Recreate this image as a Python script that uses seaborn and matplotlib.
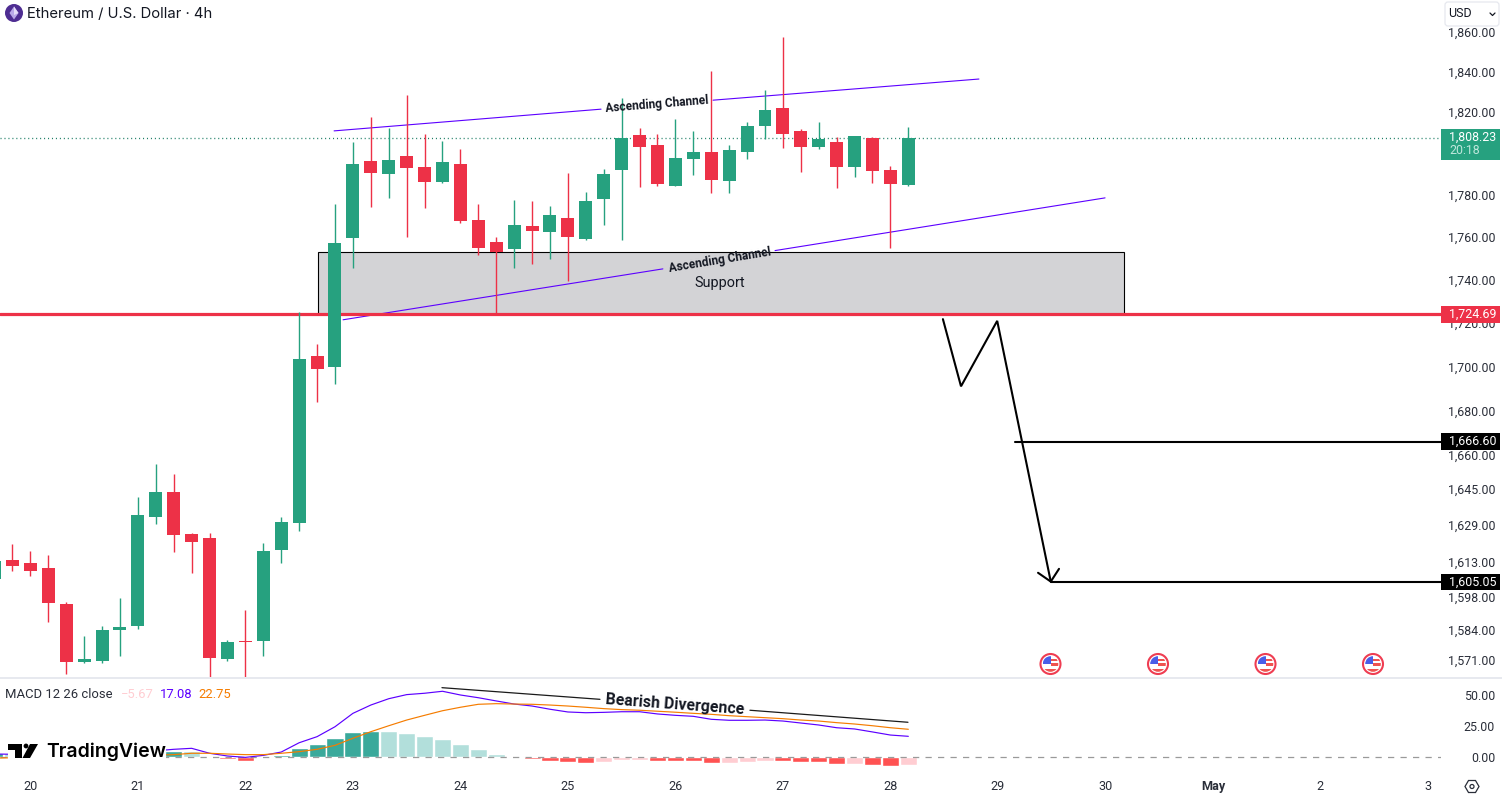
import numpy as np
import pandas as pd
import seaborn as sns
from matplotlib import pyplot as plt
from matplotlib.patches import Rectangle, Circle, FancyBboxPatch, Polygon
from matplotlib.transforms import ScaledTranslation

# ---- candles (4h bars)
opens = [1606.4, 1614.6, 1613.3, 1611.1, 1595.6, 1571.0, 1571.4, 1584.5, 1586.2, 1633.4,
         1644.3, 1625.9, 1624.2, 1572.2, 1579.8, 1579.8, 1618.9, 1630.7, 1705.5, 1700.4,
         1760.4, 1797.2, 1790.9, 1799.6, 1794.3, 1787.1, 1795.7, 1768.9, 1758.5, 1755.2,
         1766.1, 1763.3, 1769.9, 1759.9, 1778.9, 1792.8, 1809.7, 1804.9, 1785.1, 1798.1,
         1801.5, 1787.5, 1801.5, 1814.1, 1822.9, 1811.7, 1803.9, 1806.3, 1794.3, 1808.2,
         1792.8, 1785.6]
highs = [1615.0, 1621.5, 1618.5, 1616.7, 1596.4, 1582.0, 1586.2, 1598.2, 1642.1, 1656.7,
         1652.3, 1626.4, 1626.4, 1580.3, 1593.0, 1622.0, 1633.4, 1725.8, 1711.0, 1776.5,
         1806.3, 1818.6, 1813.2, 1829.2, 1810.2, 1806.8, 1802.9, 1776.5, 1761.0, 1778.4,
         1777.9, 1775.6, 1791.4, 1782.3, 1793.3, 1827.8, 1813.2, 1810.2, 1817.5, 1811.7,
         1841.1, 1804.9, 1816.0, 1831.6, 1857.9, 1812.7, 1816.0, 1808.7, 1809.2, 1808.7,
         1794.8, 1813.7]
lows = [1604.0, 1609.8, 1607.7, 1587.9, 1565.9, 1570.5, 1570.5, 1573.5, 1585.0, 1630.3,
        1618.0, 1609.0, 1559.2, 1571.4, 1559.2, 1573.5, 1613.3, 1627.2, 1684.5, 1692.7,
        1746.3, 1775.1, 1779.4, 1761.0, 1774.6, 1786.6, 1767.5, 1752.4, 1724.4, 1746.3,
        1748.1, 1750.5, 1740.2, 1759.4, 1766.5, 1759.4, 1784.7, 1785.1, 1785.1, 1790.4,
        1781.8, 1781.8, 1798.1, 1807.8, 1803.4, 1791.9, 1802.9, 1784.2, 1789.5, 1786.6,
        1755.6, 1785.1]
closes = [1614.1, 1612.0, 1609.8, 1596.0, 1571.0, 1572.2, 1584.5, 1585.8, 1634.2, 1644.3,
          1625.5, 1622.4, 1572.6, 1579.4, 1579.4, 1618.5, 1631.2, 1704.1, 1699.5, 1758.0,
          1795.7, 1791.4, 1797.7, 1793.8, 1787.1, 1796.7, 1768.4, 1755.6, 1753.8, 1766.5,
          1763.7, 1771.3, 1761.0, 1777.9, 1790.9, 1808.2, 1803.9, 1786.1, 1798.6, 1801.5,
          1788.0, 1802.5, 1814.1, 1822.0, 1810.2, 1803.9, 1807.8, 1794.3, 1809.2, 1792.4,
          1786.1, 1808.23]

# ---- MACD pane
macd_hist = [3.9, 3.5, 2.6, 1.9, 0.8, 0.6, 1.0, 1.5, 2.6, 3.4,
             5.4, 5.4, 1.3, -1.1, -2.7, -0.5, 2.2, 7.8, 11.0, 15.9,
             20.7, 21.5, 21.5, 19.9, 17.5, 14.8, 10.7, 6.7, 2.7, 1.0,
             -1.4, -3.0, -3.8, -4.6, -3.8, -2.2, -2.2, -3.0, -3.0, -3.0,
             -4.6, -4.6, -3.8, -3.0, -3.0, -3.8, -3.8, -5.4, -5.4, -6.2,
             -7.0, -5.67]
hist_shade = ['up', 'fade', 'fade', 'fade', 'fade', 'fade', 'up', 'up', 'up', 'up',
              'up', 'fade', 'fade', 'down', 'down', 'back', 'up', 'up', 'up', 'up',
              'up', 'up', 'fade', 'fade', 'fade', 'fade', 'fade', 'fade', 'fade', 'fade',
              'down', 'down', 'down', 'down', 'back', 'back', 'back', 'down', 'down', 'down',
              'down', 'back', 'back', 'back', 'down', 'down', 'down', 'down', 'back', 'down',
              'down', 'back']
macd_line = [2.8, 2.6, 2.3, 2.0, 1.6, 1.4, 1.6, 2.2, 3.4, 5.4,
             6.6, 7.4, 3.4, 1.2, 0.1, 1.7, 4.4, 11.9, 16.8, 24.8,
             35.6, 42.3, 47.4, 50.7, 51.8, 53.4, 50.4, 48.2, 45.6, 43.1,
             41.5, 38.9, 36.7, 36.1, 36.4, 36.9, 36.9, 35.1, 34.0, 33.2,
             30.8, 30.0, 30.0, 30.2, 29.4, 27.8, 26.2, 24.0, 23.0, 20.6,
             18.1, 17.08]
signal_line = [-0.5, -0.2, 0.2, 0.5, 0.8, 1.0, 1.2, 1.5, 1.8, 2.0,
               2.3, 3.4, 3.4, 2.8, 2.3, 2.3, 3.4, 4.7, 6.6, 9.8,
               15.5, 20.8, 25.6, 30.2, 34.0, 37.7, 40.5, 42.9, 43.4, 43.1,
               42.9, 42.3, 41.5, 40.5, 39.4, 38.6, 38.1, 37.3, 36.5, 35.6,
               34.8, 33.7, 32.9, 32.1, 31.3, 30.2, 29.4, 28.1, 27.0, 25.6,
               24.0, 22.75]

# ---- axis labels
price_ticks = [1860, 1840, 1820, 1780, 1760, 1740, 1720, 1700, 1680, 1660, 1645, 1629, 1613, 1598, 1584, 1571]
macd_ticks = [50, 25, 0]
day_ticks = [2, 8, 14, 20, 26, 32, 38, 44, 50, 56, 62, 68, 74, 80]
day_labels = ['20', '21', '22', '23', '24', '25', '26', '27', '28', '29', '30', 'May', '2', '3']

# ---- levels and drawings (bar number, price)
last_price = 1808.23
support_price = 1724.69
target1 = 1666.60
target2 = 1605.05
channel_up_a = ([18.95, 33.85], [1811.7, 1822.3])
channel_up_b = ([40.10, 54.94], [1826.7, 1837.1])
channel_lo_a = ([19.45, 37.30], [1722.1, 1745.8])
channel_lo_b = ([43.56, 61.98], [1754.4, 1779.4])
zone_x = [18.05, 63.04]
zone_y = [1724.69, 1753.8]
path_x = [52.93, 53.94, 55.96, 58.95]
path_y = [1722.4, 1691.6, 1721.6, 1605.2]
head_x = [58.24, 58.95, 59.41]
head_y = [1609.0, 1605.2, 1610.7]
divergence_a = ([24.97, 33.79], [56.3, 46.9])
divergence_b = ([42.16, 50.98], [38.1, 28.4])

GREEN = '#26a17f'
RED = '#ed3147'
PURPLE = '#5c00ff'
ORANGE = '#f57c00'
INK = '#2a2e39'
FW, FH = 1502, 796
PANE_R = 1441

sns.set_theme(style='white')
plt.rcParams['font.family'] = ['Roboto', 'DejaVu Sans']

fig = plt.figure(figsize=(FW / 100, FH / 100), dpi=100, facecolor='white')
ax = fig.add_axes([0, (FH - 677) / FH, PANE_R / FW, 677 / FH])
ax2 = fig.add_axes([0, (FH - 772) / FH, PANE_R / FW, (772 - 678) / FH])
top = fig.add_axes([0, 0, 1, 1], zorder=10)  # overlay in pixel units, for tags and logo
top.set_xlim(0, FW)
top.set_ylim(FH, 0)
top.axis('off')
top.patch.set_alpha(0)

bars = np.arange(len(opens))
o, h, l, c = map(np.array, (opens, highs, lows, closes))
colors = np.where(c >= o, GREEN, RED)

# main pane
ax.set_yscale('log')
ax.add_patch(Rectangle((zone_x[0], zone_y[0]), zone_x[1] - zone_x[0], zone_y[1] - zone_y[0],
                       facecolor='#d3d3d6', edgecolor='black', lw=0.8, zorder=1))
for seg in (channel_up_a, channel_up_b, channel_lo_a, channel_lo_b):
    sns.lineplot(x=seg[0], y=seg[1], color=PURPLE, lw=0.8, ax=ax, zorder=2)
ax.axhline(last_price, color='#1f7f66', lw=0.95, ls=(0, (0.8, 2.2)), zorder=2)
ax.axhline(support_price, color=RED, lw=2.3, zorder=3)
ax.vlines(bars, l, h, colors=colors, lw=1.0, zorder=4)
ax.bar(bars, np.abs(c - o), bottom=np.minimum(o, c), width=0.725, color=colors, lw=0, zorder=5)
ax.plot(path_x, path_y, color='black', lw=1.5, zorder=6, solid_joinstyle='miter')
ax.plot(head_x, head_y, color='black', lw=1.5, zorder=6)
ax.plot([56.95, 81], [target1, target1], color='black', lw=1.5, zorder=6)
ax.plot([58.95, 81], [target2, target2], color='black', lw=1.5, zorder=6)
ax.text(36.95, 1824.6, 'Ascending Channel', rotation=4.6, rotation_mode='anchor', ha='center', va='center',
        fontsize=8.6, fontweight='bold', color='#131722', zorder=7)
ax.text(40.5, 1749.8, 'Ascending Channel', rotation=9.3, rotation_mode='anchor', ha='center', va='center',
        fontsize=8.6, fontweight='bold', color='#131722', zorder=7)
ax.text(40.5, 1739.4, 'Support', ha='center', va='center', fontsize=10.4, color='#131722', zorder=7)

# macd pane
hist_df = pd.DataFrame({'bar': bars, 'value': macd_hist, 'shade': hist_shade})
sns.barplot(data=hist_df, x='bar', y='value', hue='shade', native_scale=True, dodge=False, width=0.95,
            palette={'up': '#3aa99b', 'fade': '#b2dfdb', 'down': '#ff5252', 'back': '#ffcdd2'},
            saturation=1, legend=False, ax=ax2, zorder=2)
ax2.axhline(0, color='#9a9a9a', lw=0.9, ls=(0, (5, 5)), zorder=3)
sns.lineplot(x=bars, y=macd_line, color=PURPLE, lw=0.85, ax=ax2, zorder=4)
sns.lineplot(x=bars, y=signal_line, color=ORANGE, lw=0.85, ax=ax2, zorder=4)
for seg in (divergence_a, divergence_b):
    ax2.plot(seg[0], seg[1], color='#1a1a1a', lw=0.9, zorder=5)
ax2.text(37.98, 42.3, 'Bearish Divergence', rotation=-4.2, rotation_mode='anchor', ha='center', va='center',
         fontsize=11.4, fontweight='bold', color='#131722', zorder=6)

# axes
xlim = (0.303, 80.73)
for a in (ax, ax2):
    a.set_xlim(*xlim)
    a.set_xlabel('')
    a.set_ylabel('')
    a.yaxis.tick_right()
    for s in a.spines.values():
        s.set_visible(False)
ax.set_ylim(1564.6, 1876.5)
ax2.set_ylim(-11.7, 64.1)
ax.set_yticks(price_ticks, [f'{p:,.2f}' for p in price_ticks])
ax.minorticks_off()
ax2.set_yticks(macd_ticks, [f'{v:.2f}' for v in macd_ticks])
ax.set_xticks([])
ax2.set_xticks(day_ticks, day_labels)
for a in (ax, ax2):
    a.tick_params(axis='y', length=0, pad=38.9, labelsize=8.9, labelcolor=INK)
    for t in a.get_yticklabels():
        t.set_ha('right')
# price labels sit a little above their levels in the reference
for t in ax.get_yticklabels():
    t.set_transform(t.get_transform() + ScaledTranslation(0, 1.6 / 100, fig.dpi_scale_trans))
ax2.tick_params(axis='x', length=0, pad=6, labelsize=9.1, labelcolor=INK)
ax2.get_xticklabels()[day_labels.index('May')].set_fontweight('bold')

# pane separator
top.plot([0, FW], [677.5, 677.5], color='#e0e3eb', lw=1.1)


def tag(y0, y1, color):
    top.add_patch(Rectangle((PANE_R, y0), FW - 2 - PANE_R, y1 - y0, facecolor=color, edgecolor='none'))


tag(129, 160, GREEN)
top.text(1449, 137.5, f'{last_price:,.2f}', color='white', fontsize=8.9, va='center')
top.text(1449, 151, '20:18', color='#bfe7dc', fontsize=8.9, va='center')
tag(306, 323, RED)
top.text(1449, 314.5, f'{support_price:,.2f}', color='white', fontsize=8.9, va='center')
tag(433, 450, 'black')
top.text(1449, 441.5, f'{target1:,.2f}', color='white', fontsize=8.9, va='center')
tag(574, 590, 'black')
top.text(1449, 582, f'{target2:,.2f}', color='white', fontsize=8.9, va='center')

# currency box
top.add_patch(FancyBboxPatch((1445, 2), 54, 24, boxstyle='round,pad=0,rounding_size=3',
                             facecolor='white', edgecolor='#e6e8ee', lw=0.9))
top.text(1448, 13.5, 'USD', fontsize=9.0, color='#131722', va='center')
top.plot([1490, 1492.5, 1495], [13, 15.5, 13], color='#131722', lw=0.9)

# title
top.add_patch(Circle((14, 13), 9, facecolor='#4e2d92', edgecolor='none'))
top.add_patch(Polygon([(14, 6.5), (18.5, 13), (14, 19.5), (9.5, 13)], facecolor='#b9a8e8', edgecolor='none'))
top.add_patch(Polygon([(14, 6.5), (18.5, 13), (14, 15)], facecolor='#e4dcf8', edgecolor='none'))
top.text(27, 13.6, 'Ethereum / U.S. Dollar · 4h', fontsize=10.7, family=['Inter', 'DejaVu Sans'],
         color='#131722', va='center')

# macd legend
top.text(5, 694.5, 'MACD 12 26 close', fontsize=9.4, color=INK, va='center')
top.text(121, 694.5, '\u22125.67', fontsize=9.4, color='#ffcdd2', va='center')
top.text(159.5, 694.5, '17.08', fontsize=9.4, color=PURPLE, va='center')
top.text(198, 694.5, '22.75', fontsize=9.4, color=ORANGE, va='center')

# logo
top.add_patch(Rectangle((8, 742), 158, 21, facecolor='white', edgecolor='none'))
top.add_patch(Polygon([(8, 744), (22, 744), (22, 758), (15, 758), (15, 750), (8, 750)], facecolor='black', edgecolor='none'))
top.add_patch(Circle((26, 746), 2.4, facecolor='black', edgecolor='none'))
top.add_patch(Polygon([(30, 744), (38, 744), (30, 758), (22.5, 758)], facecolor='black', edgecolor='none'))
top.text(46, 751.5, 'TradingView', fontsize=14.0, family=['Inter', 'DejaVu Sans'], fontweight='semibold',
         color='black', va='center')

# event flags
for fx in (1050.5, 1158, 1265.5, 1373):
    top.add_patch(Circle((fx, 664), 10, facecolor='white', edgecolor='#ef3d52', lw=1.5))
    clip = Circle((fx, 664), 7.8, transform=top.transData)
    for ry, rh, rx in ((658.5, 2.5, fx), (663, 3, fx), (668.5, 3.5, fx - 8)):
        r = Rectangle((rx, ry), 16, rh, facecolor='#ef5350', edgecolor='none')
        top.add_patch(r)
        r.set_clip_path(clip)
    b = Rectangle((fx - 8, 656), 8, 8, facecolor='#4a5ee8', edgecolor='none')
    top.add_patch(b)
    b.set_clip_path(clip)

# settings icon
top.add_patch(Polygon([(1465, 786.5), (1468.5, 780.5), (1475.5, 780.5), (1479, 786.5), (1475.5, 792.5), (1468.5, 792.5)],
                      facecolor='none', edgecolor=INK, lw=0.9))
top.add_patch(Circle((1472, 786.5), 2, facecolor='none', edgecolor=INK, lw=0.9))

fig.savefig('out.png', dpi=100)
